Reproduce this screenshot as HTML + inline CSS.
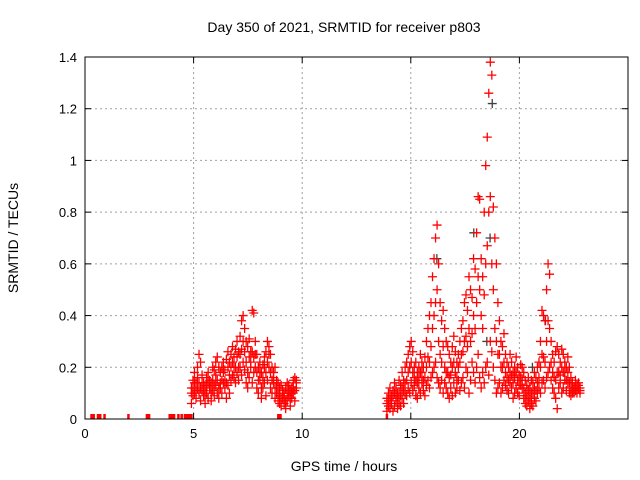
<!DOCTYPE html>
<html><head><meta charset="utf-8"><style>
body{margin:0;background:#fff}
svg{display:block;font-family:"Liberation Sans",sans-serif}
</style></head><body>
<svg id="chart" width="640" height="480">
<defs><clipPath id="pc"><rect x="85" y="57" width="543" height="362"/></clipPath></defs>
<rect width="640" height="480" fill="#fff"/>
<text x="344" y="32" font-size="14" text-anchor="middle">Day 350 of 2021, SRMTID for receiver p803</text>
<text x="344" y="471" font-size="14" text-anchor="middle">GPS time / hours</text>
<text x="18" y="238" font-size="14" text-anchor="middle" transform="rotate(-90 18 238)">SRMTID / TECUs</text>
<g id="grid"></g>
<g id="axes"></g>
<g id="marks" clip-path="url(#pc)"></g>
<rect x="85" y="57" width="543" height="362" fill="none" stroke="#000" stroke-width="1"/>
</svg>
<script>
const xTicks=[0,5,10,15,20];
const yTicks=[0,0.2,0.4,0.6,0.8,1,1.2,1.4];
const yTickLabels=["0","0.2","0.4","0.6","0.8","1","1.2","1.4"];
const seg1Start=4.9, seg1Step=0.07;
const seg1A=[0.12,0.15,0.18,0.14,0.2,0.25,0.22,0.17,0.14,0.13,0.16,0.18,0.15,0.14,0.2,0.19,0.22,0.24,0.2,0.18,0.2,0.22,0.19,0.23,0.26,0.22,0.25,0.28,0.24,0.27,0.3,0.26,0.32,0.38,0.4,0.35,0.3,0.28,0.31,0.26,0.42,0.41,0.3,0.25,0.2,0.22,0.18,0.21,0.24,0.26,0.3,0.28,0.25,0.2,0.18,0.2,0.15,0.14,0.12,0.13,0.11,0.1,0.12,0.14,0.13,0.11,0.12,0.15,0.16,0.15];
const seg1B=[0.06,0.09,0.1,0.08,0.12,0.1,0.07,0.11,0.09,0.06,0.1,0.08,0.12,0.07,0.11,0.09,0.13,0.1,0.08,0.12,0.1,0.14,0.12,0.08,0.13,0.1,0.15,0.17,0.16,0.14,0.18,0.15,0.2,0.17,0.22,0.19,0.14,0.12,0.16,0.2,0.14,0.18,0.2,0.12,0.1,0.15,0.08,0.12,0.14,0.09,0.15,0.2,0.12,0.1,0.14,0.08,0.1,0.07,0.06,0.05,0.08,0.06,0.04,0.07,0.09,0.05,0.08,0.1,0.07,0.12];
const seg1C=[0.1,0.12,0.14,0.11,0.16,0.14,0.12,0.14,0.11,0.1,0.13,0.14,0.12,0.1,0.15,0.13,0.17,0.15,0.12,0.14,0.15,0.18,0.15,0.14,0.2,0.17,0.2,0.22,0.2,0.2,0.24,0.2,0.25,0.27,0.3,0.26,0.22,0.18,0.24,0.22,0.26,0.24,0.25,0.18,0.15,0.18,0.12,0.16,0.2,0.18,0.22,0.25,0.18,0.15,0.16,0.12,0.12,0.1,0.09,0.08,0.1,0.08,0.07,0.1,0.11,0.08,0.1,0.12,0.11,0.14];
const seg2Start=13.9, seg2Step=0.07;
const seg2A=[0.08,0.1,0.12,0.09,0.11,0.14,0.12,0.1,0.15,0.13,0.18,0.15,0.2,0.22,0.25,0.28,0.3,0.26,0.2,0.22,0.18,0.2,0.25,0.22,0.2,0.24,0.3,0.35,0.4,0.45,0.55,0.62,0.7,0.75,0.6,0.45,0.38,0.42,0.35,0.3,0.28,0.25,0.22,0.28,0.32,0.26,0.22,0.25,0.3,0.35,0.38,0.45,0.48,0.42,0.55,0.5,0.47,0.62,0.58,0.72,0.86,0.85,0.62,0.55,0.8,0.98,1.09,1.26,1.38,1.33,0.82,0.7,0.6,0.45,0.38,0.3,0.28,0.33,0.25,0.22,0.2,0.25,0.22,0.18,0.2,0.24,0.2,0.17,0.21,0.2,0.18,0.15,0.13,0.16,0.12,0.15,0.14,0.18,0.16,0.2,0.22,0.3,0.42,0.4,0.38,0.5,0.6,0.56,0.3,0.25,0.22,0.26,0.28,0.25,0.22,0.27,0.25,0.22,0.2,0.24,0.2,0.16,0.14,0.12,0.15,0.13,0.14,0.12];
const seg2B=[0.03,0.05,0.04,0.06,0.03,0.05,0.07,0.04,0.06,0.05,0.08,0.06,0.1,0.09,0.12,0.1,0.14,0.11,0.13,0.09,0.08,0.12,0.1,0.14,0.11,0.09,0.13,0.15,0.12,0.16,0.18,0.2,0.22,0.16,0.14,0.12,0.15,0.1,0.14,0.12,0.1,0.08,0.12,0.09,0.14,0.1,0.12,0.15,0.11,0.14,0.16,0.12,0.2,0.18,0.1,0.15,0.22,0.18,0.14,0.2,0.25,0.16,0.12,0.18,0.14,0.2,0.22,0.17,0.3,0.26,0.2,0.15,0.1,0.12,0.14,0.1,0.12,0.15,0.13,0.11,0.1,0.14,0.12,0.08,0.1,0.12,0.1,0.09,0.13,0.12,0.08,0.06,0.05,0.07,0.04,0.06,0.05,0.08,0.07,0.1,0.12,0.1,0.14,0.15,0.12,0.16,0.18,0.2,0.15,0.12,0.1,0.08,0.04,0.12,0.14,0.1,0.12,0.15,0.11,0.14,0.1,0.09,0.1,0.1,0.11,0.1,0.12,0.1];
const seg2C=[0.06,0.07,0.08,0.07,0.09,0.1,0.09,0.08,0.1,0.09,0.12,0.11,0.14,0.15,0.18,0.2,0.22,0.18,0.16,0.15,0.14,0.16,0.18,0.18,0.15,0.16,0.2,0.24,0.22,0.28,0.35,0.4,0.45,0.5,0.3,0.25,0.22,0.28,0.2,0.18,0.18,0.16,0.17,0.2,0.22,0.18,0.16,0.2,0.22,0.25,0.26,0.3,0.32,0.28,0.35,0.3,0.33,0.4,0.35,0.45,0.55,0.5,0.4,0.35,0.48,0.6,0.67,0.8,0.86,0.6,0.5,0.35,0.3,0.25,0.25,0.2,0.2,0.22,0.18,0.16,0.15,0.18,0.17,0.14,0.16,0.18,0.15,0.13,0.16,0.15,0.12,0.1,0.09,0.11,0.08,0.1,0.1,0.12,0.11,0.14,0.16,0.2,0.25,0.24,0.22,0.3,0.38,0.35,0.22,0.18,0.16,0.15,0.18,0.18,0.17,0.2,0.18,0.18,0.15,0.18,0.14,0.12,0.12,0.11,0.12,0.11,0.13,0.11];
const zeroTimes=[0.3,0.4,0.6,0.7,0.9,2.0,2.85,2.95,3.9,4.0,4.1,4.3,4.45,4.6,4.7,4.8,4.9,8.9,9.0,13.9];
const darkTimes=[16.2,17.9,18.5,18.65,18.75,20.6,21.2];
const darkValues=[0.62,0.72,0.3,0.7,1.22,0.2,0.38];

const L=85,R=628,T=57,B=419,XMAX=25,YMAX=1.4;
const xs=v=>L+(R-L)*v/XMAX, ys=v=>B-(B-T)*v/YMAX;
const NS="http://www.w3.org/2000/svg";
function mk(tag,attrs,parent){const e=document.createElementNS(NS,tag);for(const k in attrs)e.setAttribute(k,attrs[k]);parent.appendChild(e);return e;}
const grid=document.getElementById('grid'),axes=document.getElementById('axes'),marks=document.getElementById('marks');
xTicks.forEach(t=>{const x=xs(t);
 if(t>0&&t<XMAX){const g=mk('line',{x1:x,x2:x,y1:T,y2:B,stroke:'#a0a0a0','stroke-dasharray':'2,3'},grid);}
 mk('line',{x1:x,x2:x,y1:B,y2:B-6,stroke:'#000'},axes);mk('line',{x1:x,x2:x,y1:T,y2:T+6,stroke:'#000'},axes);
 const tx=mk('text',{x:x,y:B+19,'font-size':13,'text-anchor':'middle'},axes);tx.textContent=t;
 });
yTicks.forEach((t,i)=>{const y=ys(t);
 if(t>0&&t<YMAX){const g=mk('line',{x1:L,x2:R,y1:y,y2:y,stroke:'#a0a0a0','stroke-dasharray':'2,3'},grid);}
 mk('line',{x1:L,x2:L+6,y1:y,y2:y,stroke:'#000'},axes);mk('line',{x1:R,x2:R-6,y1:y,y2:y,stroke:'#000'},axes);
 const tx=mk('text',{x:L-8,y:y+5,'font-size':13,'text-anchor':'end'},axes);tx.textContent=yTickLabels[i];
 });
function plus(t,v,color,w){const x=xs(t),y=ys(v);
 const p=mk('path',{d:`M${x-4.5},${y}H${x+4.5}M${x},${y-4.5}V${y+4.5}`,stroke:color,'stroke-width':w||1.3,fill:'none'},marks);
 }
darkTimes.forEach((t,i)=>plus(t,darkValues[i],'#404040'));
zeroTimes.forEach(t=>{const x=xs(t);
 const p=mk('path',{d:`M${x},${B-5}V${B}`,stroke:'#ff0000','stroke-width':2.5,fill:'none'},marks);
 });
[seg1A,seg1B,seg1C].forEach(arr=>arr.forEach((v,i)=>plus(seg1Start+seg1Step*i,v,'#ff0000')));
[seg2A,seg2B,seg2C].forEach(arr=>arr.forEach((v,i)=>plus(seg2Start+seg2Step*i,v,'#ff0000')));
</script>
</body></html>
